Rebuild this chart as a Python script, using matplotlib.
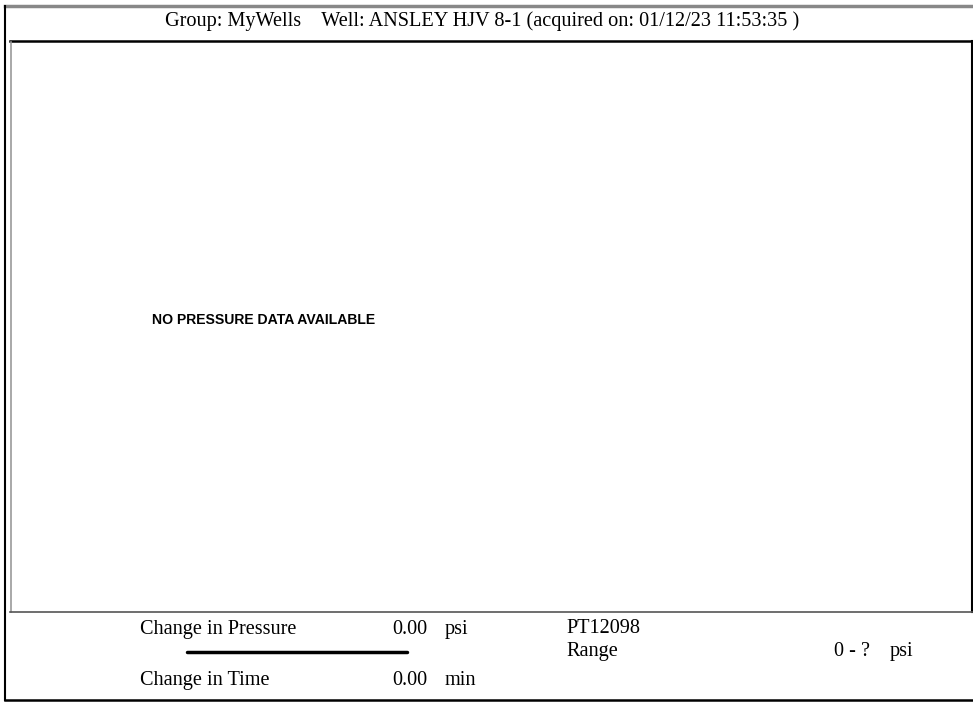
import matplotlib
matplotlib.use("Agg")
import matplotlib.pyplot as plt

# datos del encabezado y del pie
grupo = "MyWells"
pozo = "ANSLEY HJV 8-1"
fecha = "01/12/23 11:53:35"
mensaje = "NO PRESSURE DATA AVAILABLE"

etiquetas = ["Change in Pressure", "Change in Time"]
valores = [0.00, 0.00]
unidades = ["psi", "min"]

sensor = "PT12098"
rango_txt = "Range"
rango_val = "0 - ?"
rango_unid = "psi"

W, H = 973, 702
fig = plt.figure(figsize=(W / 100, H / 100), dpi=100)
ax = fig.add_axes([0, 0, 1, 1])
ax.set_xlim(0, W)
ax.set_ylim(H, 0)
ax.axis("off")

serif = "Liberation Serif"
fs = 14.6

# marco exterior
ax.plot([5, W], [6, 6], color="#888888", lw=2.5)
ax.plot([5, 5], [6, 700], color="black", lw=1.5)
ax.plot([5, W], [700, 700], color="black", lw=1.8)

# recuadro de la grafica
ax.plot([10, 972], [41, 41], color="black", lw=1.8)
ax.plot([972, 972], [41, 612], color="black", lw=1.5)
ax.plot([10.5, 10.5], [42, 612], color="#999999", lw=1.2)
ax.plot([10, 972], [612, 612], color="#555555", lw=1.2)

ax.text(482, 26, f"Group: {grupo}    Well: {pozo} (acquired on: {fecha} )",
        family=serif, fontsize=fs, ha="center", va="baseline")

ax.text(152, 320, mensaje, family="Liberation Sans", fontweight="bold",
        fontsize=10.1, ha="left", va="center")

# filas del pie (linea base de cada una)
filas_y = [634, 685]
for lab, val, uni, y in zip(etiquetas, valores, unidades, filas_y):
    ax.text(140, y, lab, family=serif, fontsize=fs, ha="left", va="baseline")
    ax.text(427, y, f"{val:.2f}", family=serif, fontsize=fs, ha="right", va="baseline")
    ax.text(445, y, uni, family=serif, fontsize=fs, ha="left", va="baseline")

ax.plot([187, 407], [652, 652], color="black", lw=2.5, solid_capstyle="round")

ax.text(566, 633, sensor, family=serif, fontsize=fs, ha="left", va="baseline")
ax.text(566, 656, rango_txt, family=serif, fontsize=fs, ha="left", va="baseline")
ax.text(870, 656, rango_val, family=serif, fontsize=fs, ha="right", va="baseline")
ax.text(890, 656, rango_unid, family=serif, fontsize=fs, ha="left", va="baseline")

fig.savefig("out.png", dpi=100, facecolor="white")
